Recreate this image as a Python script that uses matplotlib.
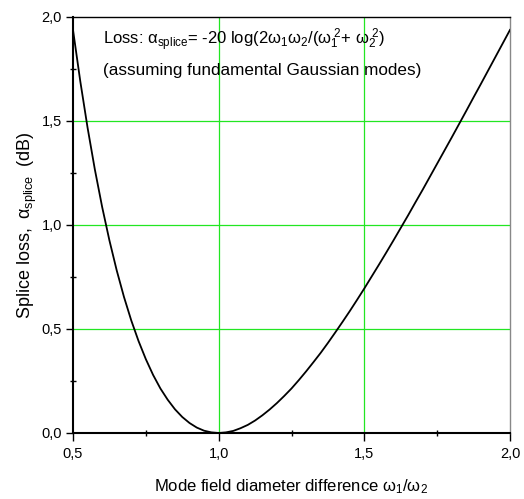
import matplotlib
matplotlib.use("Agg")
import matplotlib.pyplot as plt
from matplotlib.ticker import FixedLocator, FuncFormatter

plt.rcParams['font.family'] = ['Liberation Sans', 'DejaVu Sans']
plt.rcParams['mathtext.fontset'] = 'custom'
plt.rcParams['mathtext.rm'] = 'Liberation Sans'
plt.rcParams['mathtext.it'] = 'Liberation Sans'
plt.rcParams['mathtext.sf'] = 'Liberation Sans'
plt.rcParams['mathtext.default'] = 'regular'

# Data
ratio = [0.500, 0.525, 0.550, 0.575, 0.600, 0.625, 0.650, 0.675, 0.700, 0.725,
         0.750, 0.775, 0.800, 0.825, 0.850, 0.875, 0.900, 0.925, 0.950, 0.975,
         1.000, 1.025, 1.050, 1.075, 1.100, 1.125, 1.150, 1.175, 1.200, 1.225,
         1.250, 1.275, 1.300, 1.325, 1.350, 1.375, 1.400, 1.425, 1.450, 1.475,
         1.500, 1.525, 1.550, 1.575, 1.600, 1.625, 1.650, 1.675, 1.700, 1.725,
         1.750, 1.775, 1.800, 1.825, 1.850, 1.875, 1.900, 1.925, 1.950, 1.975,
         2.000]
loss_db = [1.938, 1.691, 1.468, 1.267, 1.087, 0.926, 0.782, 0.654, 0.541, 0.442,
           0.355, 0.279, 0.214, 0.160, 0.114, 0.077, 0.048, 0.026, 0.011, 0.003,
           0.000, 0.003, 0.010, 0.023, 0.039, 0.060, 0.085, 0.113, 0.144, 0.178,
           0.214, 0.254, 0.296, 0.340, 0.385, 0.433, 0.483, 0.534, 0.586, 0.640,
           0.695, 0.752, 0.809, 0.867, 0.926, 0.986, 1.046, 1.108, 1.169, 1.232,
           1.295, 1.358, 1.421, 1.485, 1.549, 1.614, 1.678, 1.743, 1.808, 1.873,
           1.938]
x_major = [0.5, 1.0, 1.5, 2.0]
x_minor = [0.75, 1.25, 1.75]
y_major = [0.0, 0.5, 1.0, 1.5, 2.0]
y_minor = [0.25, 0.75, 1.25, 1.75]
grid_x = [1.0, 1.5]
grid_y = [0.5, 1.0, 1.5]

fig = plt.figure(figsize=(5.24, 4.99), dpi=100)
ax = fig.add_axes([73/524, 1-433/499, (510-73)/524, (433-17)/499])

green = '#22e622'
for gx in grid_x:
    ax.axvline(gx, color=green, lw=0.9, zorder=1)
for gy in grid_y:
    ax.axhline(gy, color=green, lw=0.9, zorder=1)

ax.plot(ratio, loss_db, color='black', lw=1.3, zorder=3)

ax.set_xlim(0.5, 2.0)
ax.set_ylim(0.0, 2.0)

fmt = FuncFormatter(lambda v, p: f"{v:.1f}".replace('.', ','))
ax.xaxis.set_major_locator(FixedLocator(x_major))
ax.xaxis.set_minor_locator(FixedLocator(x_minor))
ax.yaxis.set_major_locator(FixedLocator(y_major))
ax.yaxis.set_minor_locator(FixedLocator(y_minor))
ax.xaxis.set_major_formatter(fmt)
ax.yaxis.set_major_formatter(fmt)

ax.tick_params(axis='x', which='major', direction='out', length=6, width=1.0, labelsize=10.5, pad=4)
ax.tick_params(axis='y', which='major', direction='out', length=5, width=1.0, labelsize=10.5, pad=3)
ax.tick_params(which='minor', direction='inout', length=5, width=1.0)

ax.spines['left'].set_linewidth(1.5)
ax.spines['bottom'].set_linewidth(1.5)
ax.spines['top'].set_linewidth(1.0)
ax.spines['right'].set_linewidth(1.0)
ax.spines['right'].set_color('#888888')

ax.set_xlabel(r'Mode field diameter difference $\omega_1/\omega_2$', fontsize=12, labelpad=12)
ax.set_ylabel(r'Splice loss, $\;\alpha_{splice}\;$ (dB)', fontsize=13, labelpad=2)

ax.text(0.0686, 0.933,
        r'Loss: $\alpha_{splice}$= -20 log(2$\omega_1\omega_2$/($\omega_1^{\ 2}$+ $\omega_2^{\ 2}$)',
        transform=ax.transAxes, fontsize=12, ha='left', va='baseline')
ax.text(0.0686, 0.861, '(assuming fundamental Gaussian modes)',
        transform=ax.transAxes, fontsize=12.3, ha='left', va='baseline')

fig.savefig('out.png', dpi=100)
